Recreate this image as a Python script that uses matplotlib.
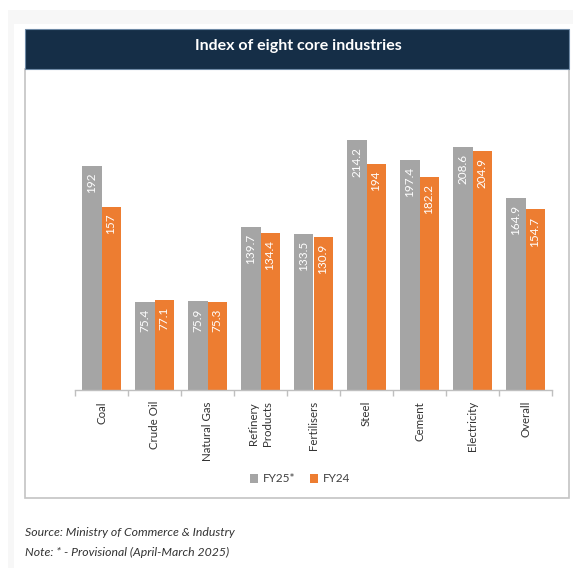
import matplotlib
matplotlib.use("Agg")
import matplotlib.pyplot as plt
from matplotlib.patches import Rectangle
import numpy as np

categories = ["Coal", "Crude Oil", "Natural Gas", "Refinery\nProducts", "Fertilisers",
              "Steel", "Cement", "Electricity", "Overall"]
fy25 = [192, 75.4, 75.9, 139.7, 133.5, 214.2, 197.4, 208.6, 164.9]
fy24 = [157, 77.1, 75.3, 134.4, 130.9, 194, 182.2, 204.9, 154.7]
fy25_labels = ["192", "75.4", "75.9", "139.7", "133.5", "214.2", "197.4", "208.6", "164.9"]
fy24_labels = ["157", "77.1", "75.3", "134.4", "130.9", "194", "182.2", "204.9", "154.7"]
series_names = ["FY25*", "FY24"]
title = "Index of eight core industries"
source = "Source: Ministry of Commerce & Industry"
note = "Note: * - Provisional (April-March 2025)"

W, H = 573, 568
plt.rcParams['font.family'] = ['Lato', 'DejaVu Sans']
fig = plt.figure(figsize=(W / 100, H / 100), dpi=100)

def fx(x):
    return x / W

def fy(y):
    return 1 - y / H

# background panel / shadow
fig.patches.append(Rectangle((fx(8), fy(568)), fx(573) - fx(8), fy(10) - fy(568),
                             transform=fig.transFigure, facecolor="#f7f7f7", edgecolor="none", zorder=0))
fig.patches.append(Rectangle((fx(14), fy(568)), fx(573) - fx(14), fy(24) - fy(568),
                             transform=fig.transFigure, facecolor="white", edgecolor="none", zorder=0))
# chart box
fig.patches.append(Rectangle((fx(25), fy(498)), fx(569) - fx(25), fy(69) - fy(498),
                             transform=fig.transFigure, facecolor="white", edgecolor="#c4c4c4",
                             linewidth=1.2, zorder=1))
# title bar
fig.patches.append(Rectangle((fx(25), fy(69)), fx(569) - fx(25), fy(29) - fy(69),
                             transform=fig.transFigure, facecolor="#152e47", edgecolor="#6f8aa6",
                             linewidth=0.8, zorder=2))
fig.text(fx(298), fy(46), title, color="white", fontsize=11.5, fontweight="bold",
         ha="center", va="center", zorder=3)

# axes
ymax = 250
left, right, base = 75, 552, 390
top = base - ymax * 1.167
ax = fig.add_axes([fx(left), fy(base), fx(right) - fx(left), fy(top) - fy(base)])
ax.set_zorder(5)
ax.patch.set_visible(False)

n = len(categories)
x = np.arange(n)
w = 0.36
b1 = ax.bar(x - w / 2, fy25, width=w, color="#a5a5a5", label=series_names[0])
b2 = ax.bar(x + w / 2, fy24, width=w, color="#ed7d31", label=series_names[1])

for bars, labels in ((b1, fy25_labels), (b2, fy24_labels)):
    for r, lab in zip(bars, labels):
        ax.annotate(lab, (r.get_x() + r.get_width() / 2, r.get_height()),
                    xytext=(0, -5), textcoords="offset points", rotation=90,
                    ha="center", va="top", color="white", fontsize=8.5)

ax.set_xlim(-0.5, n - 0.5)
ax.set_ylim(0, ymax)
ax.set_yticks([])
for s in ("left", "right", "top"):
    ax.spines[s].set_visible(False)
ax.spines["bottom"].set_color("#bfbfbf")
ax.spines["bottom"].set_linewidth(1)
ax.set_xticks(x)
ax.set_xticklabels(categories, rotation=90, fontsize=8.3, color="#333333",
                   ha="center", va="top", linespacing=1.35)
ax.tick_params(axis="x", which="major", length=0, pad=8)
ax.set_xticks(np.arange(-0.5, n, 1.0), minor=True)
ax.tick_params(axis="x", which="minor", length=4, color="#bfbfbf", width=1)

leg = fig.legend(handles=[b1, b2], labels=series_names, loc="center",
                 bbox_to_anchor=(fx(300), fy(479)), ncol=2, frameon=False,
                 fontsize=8.5, handlelength=0.7, handleheight=0.7, handletextpad=0.4,
                 columnspacing=1.2, labelcolor="#404040")

fig.text(fx(25), fy(533), source, fontsize=8.8, style="italic", color="#333333",
         ha="left", va="center")
fig.text(fx(25), fy(552), note, fontsize=8.8, style="italic", color="#333333",
         ha="left", va="center")

fig.savefig("out.png", dpi=100, facecolor="white")
